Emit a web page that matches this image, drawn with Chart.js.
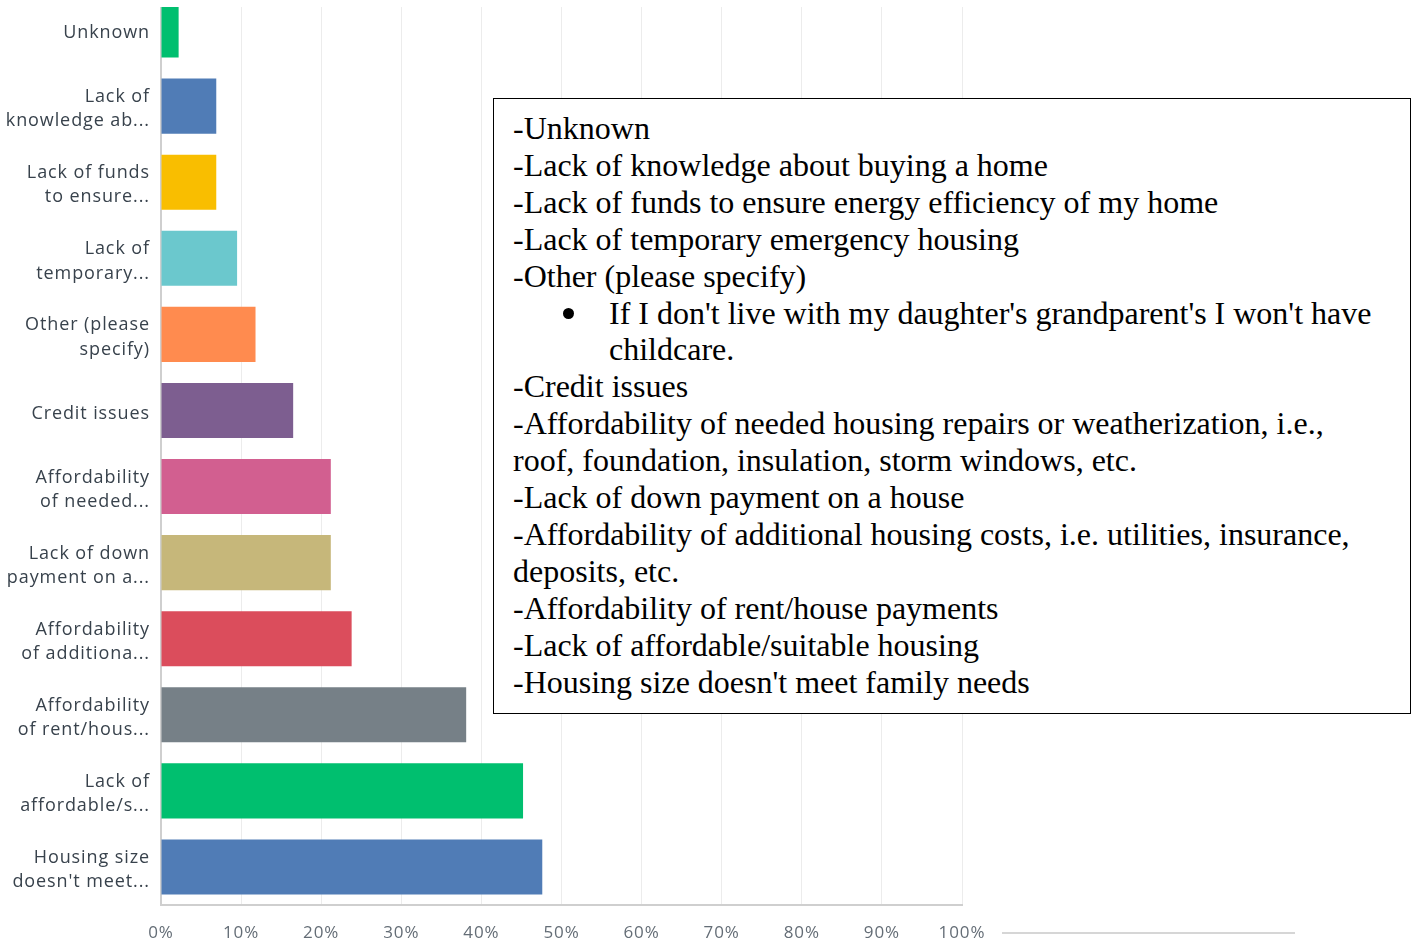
<!DOCTYPE html>
<html lang="en">
<head>
<meta charset="UTF-8">
<title>Housing barriers</title>
<script src="https://cdn.jsdelivr.net/npm/chart.js"></script>
<style>
  body { margin: 0; background: #fff; width: 1418px; height: 942px; overflow: hidden; position: relative; }
  #clip { position: absolute; left: 0; top: 7px; width: 1000px; height: 935px; overflow: hidden; }
  #wrap { position: absolute; left: 0; top: -15px; width: 1000px; height: 965px; }
  #note {
    position: absolute; left: 493px; top: 98px; width: 918px; height: 616px;
    box-sizing: border-box; border: 1px solid #000; background: #fff;
    padding: 11px 0 0 19px;
    font-family: "Liberation Serif", "Times New Roman", serif; font-size: 32px; line-height: 36.9px; color: #000;
  }
  #note .li { position: relative; padding-left: 96px; }
  #note .li .dot { position: absolute; left: 50px; top: 13px; width: 11px; height: 11px; border-radius: 50%; background: #000; }
  #rule { position: absolute; left: 1002px; top: 932px; width: 293px; height: 2px; background: #d6d6d6; }
</style>
</head>
<body>
<div id="clip"><div id="wrap"><canvas id="chart"></canvas></div></div>
<div id="note">
  <div>-Unknown</div>
  <div>-Lack of knowledge about buying a home</div>
  <div>-Lack of funds to ensure energy efficiency of my home</div>
  <div>-Lack of temporary emergency housing</div>
  <div>-Other (please specify)</div>
  <div class="li"><span class="dot"></span>If I don't live with my daughter's grandparent's I won't have<br>childcare.</div>
  <div>-Credit issues</div>
  <div>-Affordability of needed housing repairs or weatherization, i.e.,<br>roof, foundation, insulation, storm windows, etc.</div>
  <div>-Lack of down payment on a house</div>
  <div>-Affordability of additional housing costs, i.e. utilities, insurance,<br>deposits, etc.</div>
  <div>-Affordability of rent/house payments</div>
  <div>-Lack of affordable/suitable housing</div>
  <div>-Housing size doesn't meet family needs</div>
</div>
<div id="rule"></div>
<script>
    const categories = [
        ['Unknown'],
        ['Lack of', 'knowledge ab...'],
        ['Lack of funds', 'to ensure...'],
        ['Lack of', 'temporary...'],
        ['Other (please', 'specify)'],
        ['Credit issues'],
        ['Affordability', 'of needed...'],
        ['Lack of down', 'payment on a...'],
        ['Affordability', 'of additiona...'],
        ['Affordability', 'of rent/hous...'],
        ['Lack of', 'affordable/s...'],
        ['Housing size', "doesn't meet..."]
    ];
    const percents = [2.2, 6.9, 6.9, 9.5, 11.8, 16.5, 21.2, 21.2, 23.8, 38.1, 45.2, 47.6];
    const barColors = ['#00bf6f', '#507cb6', '#f9be00', '#6bc8cd', '#ff8b4f', '#7d5e90',
                       '#d25f90', '#c6b77a', '#db4d5c', '#768087', '#00bf6f', '#507cb6'];
    const xTicks = [0, 10, 20, 30, 40, 50, 60, 70, 80, 90, 100];

    // canvas context loses letterSpacing on resize, so set it right before drawing
    const spacing = {
        id: 'spacing',
        beforeDraw: (chart) => { chart.ctx.letterSpacing = '0.9px'; }
    };

    const ctx = document.getElementById('chart').getContext('2d');
    const chart = new Chart(ctx, {
        type: 'bar',
        data: {
            labels: categories,
            datasets: [{
                data: percents,
                backgroundColor: barColors,
                borderWidth: 0,
                barPercentage: 0.723,
                categoryPercentage: 1
            }]
        },
        options: {
            indexAxis: 'y',
            responsive: true,
            maintainAspectRatio: false,
            animation: false,
            layout: { padding: { left: 0, right: 38, top: 0, bottom: 0 } },
            plugins: { legend: { display: false }, tooltip: { enabled: false } },
            scales: {
                x: {
                    min: 0,
                    max: 100,
                    afterBuildTicks: (s) => { s.ticks = xTicks.map(v => ({ value: v })); },
                    ticks: {
                        callback: (v) => v + '%',
                        font: { family: 'Open Sans', size: 17 },
                        color: '#646d76',
                        padding: 18,
                        maxRotation: 0
                    },
                    grid: { color: '#ececec', lineWidth: 1, drawTicks: false },
                    border: { color: '#cfcfcf', width: 2 },
                    afterFit: (s) => { s.height = 52; s.paddingLeft = 0; s.paddingRight = 0; }
                },
                y: {
                    ticks: {
                        font: { family: 'Open Sans', size: 18, lineHeight: 1.35 },
                        color: '#38424c',
                        padding: 3,
                        labelOffset: 3
                    },
                    grid: { display: false },
                    border: { color: '#cfcfcf', width: 2 },
                    afterFit: (s) => { s.width = 161; s.paddingTop = 0; s.paddingBottom = 0; }
                }
            }
        },
        plugins: [spacing]
    });
</script>
</body>
</html>
